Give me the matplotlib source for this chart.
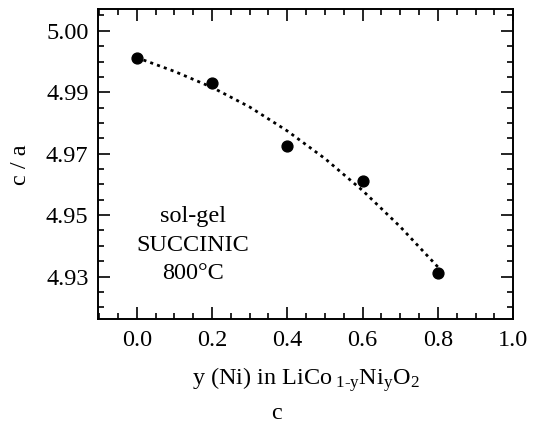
import matplotlib
matplotlib.use('Agg')
import matplotlib.pyplot as plt
from matplotlib.ticker import MultipleLocator, FixedLocator

plt.rcParams['font.family'] = ['Liberation Serif', 'DejaVu Serif']
plt.rcParams['mathtext.fontset'] = 'custom'
plt.rcParams['mathtext.rm'] = 'Liberation Serif'
plt.rcParams['mathtext.it'] = 'Liberation Serif:italic'

# measured points
y_ni = [0.0, 0.2, 0.4, 0.6, 0.8]
c_over_a = [5.0013, 4.9929, 4.9726, 4.9611, 4.9311]

# dotted guide curve
fit_x = [0.0, 0.1, 0.2, 0.3, 0.4, 0.5, 0.6, 0.7, 0.8]
fit_y = [5.0013, 4.9968, 4.9916, 4.9852, 4.9774, 4.9684, 4.9580, 4.9462, 4.9331]

# y tick labels as printed on the original
ytick_vals = [4.93, 4.95, 4.97, 4.99, 5.01]
ytick_text = ['4.93', '4.95', '4.97', '4.99', '5.00']
xtick_vals = [0.0, 0.2, 0.4, 0.6, 0.8, 1.0]

fig = plt.figure(figsize=(5.35, 4.32), dpi=100)
ax = fig.add_axes([0.1837, 0.2609, 0.7757, 0.7176])

ax.plot(fit_x, fit_y, color='black', lw=2.0, dashes=(1.1, 1.5),
        dash_capstyle='butt')
ax.plot(y_ni, c_over_a, 'o', color='black', ms=7.8)

ax.set_xlim(-0.102, 1.0)
ax.set_ylim(4.9161, 5.017)

ax.xaxis.set_major_locator(FixedLocator(xtick_vals))
ax.set_xticklabels([f'{v:.1f}' for v in xtick_vals])
ax.xaxis.set_minor_locator(MultipleLocator(0.05))
ax.yaxis.set_major_locator(FixedLocator(ytick_vals))
ax.set_yticklabels(ytick_text)
ax.yaxis.set_minor_locator(MultipleLocator(0.005))

ax.tick_params(which='both', direction='in', top=True, right=True,
               labelsize=17.5, width=1.2)
ax.tick_params(which='major', length=8.5)
ax.tick_params(which='minor', length=4.3)
ax.tick_params(axis='x', which='major', pad=8)
ax.tick_params(axis='y', which='major', pad=7)
for s in ax.spines.values():
    s.set_linewidth(1.4)

ax.text(0.15, 4.9497, 'sol-gel', fontsize=17.5, ha='center', va='center')
ax.text(0.15, 4.9402, 'SUCCINIC', fontsize=17.5, ha='center', va='center')
ax.text(0.15, 4.9309, '800°C', fontsize=17.5, ha='center', va='center')

ax.set_ylabel('c / a', fontsize=17.5, labelpad=11)
ax.set_xlabel(r'y (Ni) in LiCo$_{\ \mathrm{1‐y}}$Ni$_{\mathrm{y}}$O$_{2}$',
              fontsize=17.5, labelpad=10)

fig.text(276 / 535, 1 - 413.5 / 432, 'c', fontsize=17.5,
         ha='center', va='center')

fig.savefig('out.png', dpi=100)
